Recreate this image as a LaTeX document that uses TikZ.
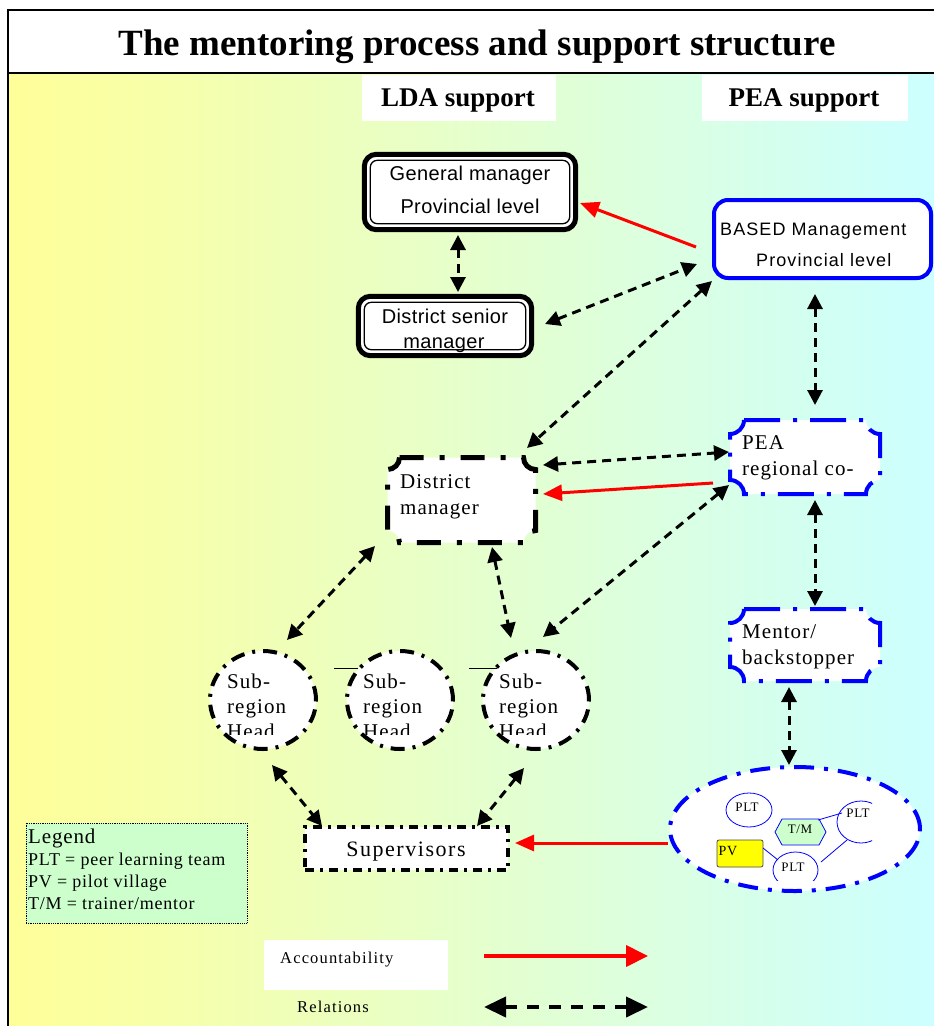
\documentclass[tikz,border=0pt]{standalone}
\usepackage{fontspec}
\setmainfont{Liberation Serif}
\newfontfamily\tnr[LetterSpace=5]{Liberation Serif}
\newfontfamily\tnrs[LetterSpace=7]{Liberation Serif}
\newfontfamily\tnrl[LetterSpace=4]{Liberation Serif}
\newfontfamily\ari[LetterSpace=2]{Liberation Sans}
\newfontfamily\arib[LetterSpace=6]{Liberation Sans}
\usetikzlibrary{arrows.meta,calc,shapes.geometric}
\definecolor{bgyellow}{RGB}{255,255,153}
\definecolor{bgcyan}{RGB}{204,255,255}
\definecolor{lgreen}{RGB}{204,255,204}
\definecolor{pvyellow}{RGB}{255,255,0}
\definecolor{myblue}{RGB}{0,0,255}
\definecolor{myred}{RGB}{255,0,0}
% concave-corner box: x0,y0,x1,y1,r,style
\newcommand{\plaque}[6]{%
  \path[#6] (#1+#5,#2) -- (#3-#5,#2)
    .. controls (#3-#5,#2+0.55*#5) and (#3-0.55*#5,#2+#5) .. (#3,#2+#5)
    -- (#3,#4-#5)
    .. controls (#3-0.55*#5,#4-#5) and (#3-#5,#4-0.55*#5) .. (#3-#5,#4)
    -- (#1+#5,#4)
    .. controls (#1+#5,#4-0.55*#5) and (#1+0.55*#5,#4-#5) .. (#1,#4-#5)
    -- (#1,#2+#5)
    .. controls (#1+0.55*#5,#2+#5) and (#1+#5,#2+0.55*#5) .. cycle;}
\tikzset{
  rel/.style={line width=3pt, dash pattern=on 9pt off 6pt,
    {Triangle[length=15pt,width=15pt]}-{Triangle[length=15pt,width=15pt]}},
  acc/.style={line width=3pt, myred, -{Triangle[length=19pt,width=16pt]}},
  bluedd/.style={draw=myblue, line width=4pt, dash pattern=on 36pt off 13pt on 4pt off 13pt},
  blackdd/.style={draw=black, line width=5pt, dash pattern=on 24pt off 16pt on 5pt off 16pt},
  circdd/.style={ellipse, draw, fill=white, line width=4pt, dash pattern=on 14pt off 8pt on 3pt off 8pt,
    minimum width=106pt, minimum height=98pt, inner sep=0},
  sertxt/.style={anchor=base west, inner sep=0, font=\tnr\fontsize{21}{24}\selectfont},
  pltc/.style={ellipse, draw=myblue, line width=0.8pt, inner sep=0},
  plttxt/.style={anchor=base, inner sep=0, font=\tnr\fontsize{13}{15}\selectfont},
  leg/.style={anchor=base west, inner sep=0, font=\tnrl\fontsize{18}{20}\selectfont},
  headtxt/.style={anchor=base, inner sep=0, font=\bfseries\fontsize{27}{30}\selectfont},
  sanstxt/.style={anchor=base, inner sep=0, font=\ari\fontsize{20}{22}\selectfont},
}
\begin{document}
\begin{tikzpicture}[x=1pt,y=-1pt]
\useasboundingbox (0,0) rectangle (934,1026);
\fill[white] (0,0) rectangle (934,1026);
\shade[left color=bgyellow, right color=bgcyan] (8,73) rectangle (934,1026);
\draw[line width=2pt] (8,1030) -- (8,10) -- (938,10);
\draw[line width=2pt] (8,73) -- (938,73);

% title and column heads
\node[anchor=base, inner sep=0, font=\bfseries\fontsize{37}{40}\selectfont] (title) at (477,55)
  {The mentoring process and support structure};
\node[fill=white, minimum width=194pt, minimum height=46pt, inner sep=0] (ldabox) at (459,98) {};
\node[headtxt] (lda) at (458,106) {LDA support};
\node[fill=white, minimum width=206pt, minimum height=46pt, inner sep=0] (peabox) at (805,98) {};
\node[headtxt] (peah) at (804,106) {PEA support};

% General manager
\node[fill=white, rounded corners=12pt, minimum width=211pt, minimum height=75pt, inner sep=0] (gm) at (470,192) {};
\draw[line width=5pt, rounded corners=12pt] (gm.north west) rectangle (gm.south east);
\draw[line width=1.3pt, rounded corners=7pt] ($(gm.north west)+(6,6)$) rectangle ($(gm.south east)+(-6,-6)$);
\node[sanstxt] (gm1) at (470,180) {General manager};
\node[sanstxt] (gm2) at (470,213) {Provincial level};

% District senior manager
\node[fill=white, rounded corners=12pt, minimum width=173pt, minimum height=59pt, inner sep=0] (dsm) at (445,326) {};
\node[sanstxt] (dsm1) at (445,323) {District senior};
\node[sanstxt] (dsm2) at (444,348) {manager};
\draw[line width=5pt, rounded corners=12pt] (dsm.north west) rectangle (dsm.south east);
\draw[line width=1.3pt, rounded corners=7pt] ($(dsm.north west)+(6,6)$) rectangle ($(dsm.south east)+(-6,-6)$);

% BASED management
\node[draw=myblue, line width=4pt, rounded corners=14pt, fill=white, minimum width=217pt,
  minimum height=78pt, inner sep=0] (based) at (822.5,239) {};
\node[anchor=base west, inner sep=0, font=\arib\fontsize{18}{20}\selectfont] (based1) at (720,235) {BASED Management};
\node[anchor=base west, inner sep=0, font=\arib\fontsize{18}{20}\selectfont] (based2) at (756,266) {Provincial level};

% District manager
\plaque{387.5}{457.5}{535.5}{542.5}{12}{fill=white, blackdd}
\node[inner sep=0, minimum width=148pt, minimum height=85pt] (dm) at (461.5,500) {};
\node[sertxt] (dm1) at (400,488) {District};
\node[sertxt] (dm2) at (400,514) {manager};

% PEA regional coordinator
\plaque{730}{420}{880}{494}{14}{fill=white, bluedd}
\node[inner sep=0, minimum width=150pt, minimum height=74pt] (pea) at (805,457) {};
\node[sertxt] (pea1) at (742,449) {PEA};
\node[sertxt] (pea2) at (742,475) {regional co-};

% Mentor / backstopper
\plaque{730}{609}{880}{681}{14}{fill=white, bluedd}
\node[inner sep=0, minimum width=150pt, minimum height=72pt] (mentor) at (805,645) {};
\node[sertxt] (men1) at (742,638) {Mentor/};
\node[sertxt] (men2) at (742,664) {backstopper};

% Sub-region heads
\node[circdd] (sr1) at (263,700) {};
\node[circdd] (sr2) at (400,700) {};
\node[circdd] (sr3) at (536,700) {};
\begin{scope}
  \clip (200,640) rectangle (600,734);
  \node[sertxt] (sr1a) at (227,688) {Sub-};
  \node[sertxt] (sr1b) at (227,713) {region};
  \node[sertxt] (sr1c) at (227,738) {Head};
  \node[sertxt] (sr2a) at (363,688) {Sub-};
  \node[sertxt] (sr2b) at (363,713) {region};
  \node[sertxt] (sr2c) at (363,738) {Head};
  \node[sertxt] (sr3a) at (499,688) {Sub-};
  \node[sertxt] (sr3b) at (499,713) {region};
  \node[sertxt] (sr3c) at (499,738) {Head};
\end{scope}
\coordinate (m1a) at (334,668); \coordinate (m1b) at (358,668);
\coordinate (m2a) at (469,668); \coordinate (m2b) at (497,668);
\draw[line width=1pt] (m1a) -- (m1b);
\draw[line width=1pt] (m2a) -- (m2b);

% Supervisors
\node[draw, fill=white, line width=4pt, dash pattern=on 9pt off 6pt on 3pt off 6pt,
  minimum width=203pt, minimum height=43pt, inner sep=0] (sup) at (406.5,848.5) {};
\node[anchor=base, inner sep=0, font=\tnrs\fontsize{22}{24}\selectfont] (supt) at (406,856) {Supervisors};

% Group ellipse
\node[ellipse, draw=myblue, fill=white, line width=4pt, dash pattern=on 20pt off 10pt on 4pt off 10pt,
  minimum width=250pt, minimum height=124pt, inner sep=0] (grp) at (795,829) {};
\node[pltc, minimum width=46pt, minimum height=34pt] (plt1) at (749,810) {};
\node[plttxt] (plt1t) at (747,811) {PLT};
\begin{scope}
  \clip (820,780) rectangle (872,850);
  \node[pltc, minimum width=48pt, minimum height=42pt] (plt3) at (861,822) {};
  \node[plttxt] (plt3t) at (858,817) {PLT};
\end{scope}
\begin{scope}
  \clip (760,845) rectangle (830,880);
  \node[pltc, minimum width=45pt, minimum height=36pt] (plt2) at (795.5,870) {};
  \node[plttxt] (plt2t) at (793,871) {PLT};
\end{scope}
\draw[myblue, line width=0.8pt, fill=lgreen] (775,832) -- (782,819) -- (819,819) -- (826,832) -- (819,845) -- (782,845) -- cycle;
\node[plttxt] (tm) at (800,833) {T/M};
\node[draw=black!70, line width=0.8pt, fill=pvyellow, rounded corners=2pt, minimum width=46pt,
  minimum height=27pt, inner sep=0] (pv) at (740,853.5) {};
\node[anchor=base west, inner sep=0, font=\tnr\fontsize{14}{15}\selectfont] (pvt) at (718.5,855) {PV};
\coordinate (l1a) at (818,820); \coordinate (l1b) at (842,813);
\coordinate (l2a) at (763,848); \coordinate (l2b) at (778,860);
\coordinate (l3a) at (821,862); \coordinate (l3b) at (847,840);
\draw[myblue, line width=0.8pt] (l1a) -- (l1b);
\draw[myblue, line width=0.8pt] (l2a) -- (l2b);
\draw[myblue, line width=0.8pt] (l3a) -- (l3b);

% Legend
\node[draw, densely dotted, line width=0.8pt, fill=lgreen, minimum width=221pt, minimum height=100pt,
  inner sep=0] (legend) at (136.5,873) {};
\node[anchor=base west, inner sep=0, font=\tnrl\fontsize{21}{24}\selectfont] (lg0) at (28,843) {Legend};
\node[leg] (lg1) at (28,865) {PLT = peer learning team};
\node[leg] (lg2) at (28,887) {PV = pilot village};
\node[leg] (lg3) at (28,909) {T/M = trainer/mentor};

\node[fill=white, minimum width=184pt, minimum height=50pt, inner sep=0] (accbox) at (356,965) {};
\node[anchor=base west, inner sep=0, font=\tnrs\fontsize{16.5}{18}\selectfont] (acct) at (280,963) {Accountability};
\node[anchor=base west, inner sep=0, font=\tnrs\fontsize{16.5}{18}\selectfont] (relt) at (297,1012) {Relations};
\coordinate (la1) at (484,956); \coordinate (la2) at (648,956);
\coordinate (lr1) at (484,1007); \coordinate (lr2) at (648,1007);
\draw[line width=4pt, myred, -{Triangle[length=22pt,width=21pt]}] (la1) -- (la2);
\draw[line width=4pt, dash pattern=on 12pt off 10pt,
  {Triangle[length=22pt,width=20pt]}-{Triangle[length=22pt,width=20pt]}] (lr1) -- (lr2);

% connector end points
\coordinate (a1s) at (696,247);  \coordinate (a1e) at (580,203);
\coordinate (a2s) at (458,235);  \coordinate (a2e) at (458,292);
\coordinate (a3s) at (545,324);  \coordinate (a3e) at (697,264);
\coordinate (a4s) at (712,281);  \coordinate (a4e) at (527,448);
\coordinate (a5s) at (815,294);  \coordinate (a5e) at (815,405);
\coordinate (a6s) at (543,465);  \coordinate (a6e) at (729,452);
\coordinate (a7s) at (713,483);  \coordinate (a7e) at (543,494);
\coordinate (a8s) at (729,485);  \coordinate (a8e) at (543,637);
\coordinate (a9s) at (375,546);  \coordinate (a9e) at (287,640);
\coordinate (a10s) at (492,547); \coordinate (a10e) at (511,638);
\coordinate (a11s) at (815,500); \coordinate (a11e) at (815,606);
\coordinate (a12s) at (789,687); \coordinate (a12e) at (789,765);
\coordinate (a13s) at (272,765); \coordinate (a13e) at (322,826);
\coordinate (a14s) at (524,768); \coordinate (a14e) at (477,826);
\coordinate (a15s) at (668,843); \coordinate (a15e) at (515,843);

\draw[acc] (a1s) -- (a1e);
\draw[rel] (a2s) -- (a2e);
\draw[rel] (a3s) -- (a3e);
\draw[rel] (a4s) -- (a4e);
\draw[rel] (a5s) -- (a5e);
\draw[rel] (a6s) -- (a6e);
\draw[acc] (a7s) -- (a7e);
\draw[rel] (a8s) -- (a8e);
\draw[rel] (a9s) -- (a9e);
\draw[rel] (a10s) -- (a10e);
\draw[rel] (a11s) -- (a11e);
\draw[rel] (a12s) -- (a12e);
\draw[rel] (a13s) -- (a13e);
\draw[rel] (a14s) -- (a14e);
\draw[acc] (a15s) -- (a15e);
\end{tikzpicture}
\end{document}
